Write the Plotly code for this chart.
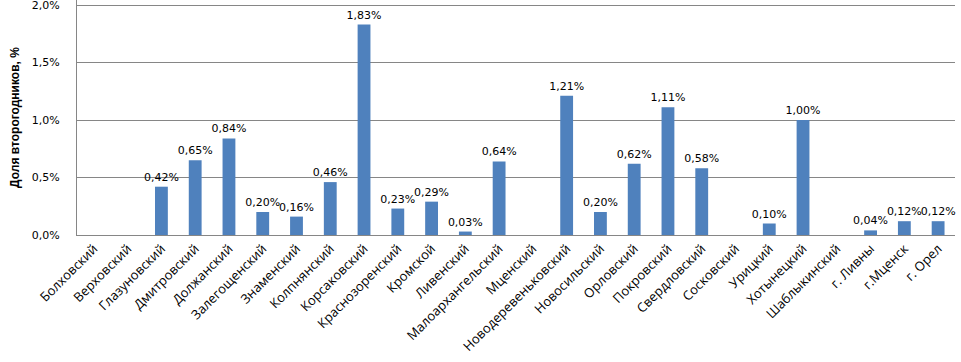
import plotly.graph_objects as go

categories = ["Болховский", "Верховский", "Глазуновский", "Дмитровский", "Должанский",
              "Залегощенский", "Знаменский", "Колпнянский", "Корсаковский", "Краснозоренский",
              "Кромской", "Ливенский", "Малоархангельский", "Мценский", "Новодеревеньковский",
              "Новосильский", "Орловский", "Покровский", "Свердловский", "Сосковский",
              "Урицкий", "Хотынецкий", "Шаблыкинский", "г. Ливны", "г.Мценск", "г. Орел"]
values = [0, 0, 0.42, 0.65, 0.84, 0.20, 0.16, 0.46, 1.83, 0.23, 0.29, 0.03, 0.64, 0,
          1.21, 0.20, 0.62, 1.11, 0.58, 0, 0.10, 1.00, 0, 0.04, 0.12, 0.12]
y_ticks = [0, 0.5, 1.0, 1.5, 2.0]
y_title = "Доля второгодников, %"

labels = [(f"{v:.2f}%".replace(".", ",") if v > 0 else "") for v in values]
y_ticktext = [f"{t:.1f}%".replace(".", ",") for t in y_ticks]

fig = go.Figure(go.Bar(
    x=categories, y=values, text=labels, textposition="outside",
    constraintext="none",
    marker=dict(color="#4F81BD", line=dict(width=0)),
    textfont=dict(family="DejaVu Sans", size=11, color="#000000"),
    cliponaxis=False,
))

fig.update_layout(
    width=961, height=362,
    margin=dict(l=77, r=6, t=0, b=127),
    plot_bgcolor="white", paper_bgcolor="white",
    bargap=0.62,
    showlegend=False,
    font=dict(family="Open Sans", color="#000000"),
)
fig.update_xaxes(
    tickangle=-45, tickfont=dict(family="Open Sans", size=13, color="#000000"),
    showline=True, linecolor="#868686", linewidth=1, ticks="",
    automargin=False,
)
fig.update_yaxes(
    range=[0, 2.0435], tickvals=y_ticks, ticktext=y_ticktext,
    tickfont=dict(family="DejaVu Sans", size=11, color="#000000"),
    showgrid=True, gridcolor="#868686", gridwidth=1,
    showline=True, linecolor="#868686", linewidth=1,
    zeroline=False, ticks="", ticklabelstandoff=14,
    ticklabeloverflow="allow",
    automargin=False,
    title=dict(text="<b>" + y_title + "</b>", font=dict(family="Liberation Sans", size=12, color="#000000"), standoff=9),
)

fig.write_html("out.html", config={"displayModeBar": False},
               post_script="document.body.style.margin='0px';document.body.style.overflow='hidden';")
